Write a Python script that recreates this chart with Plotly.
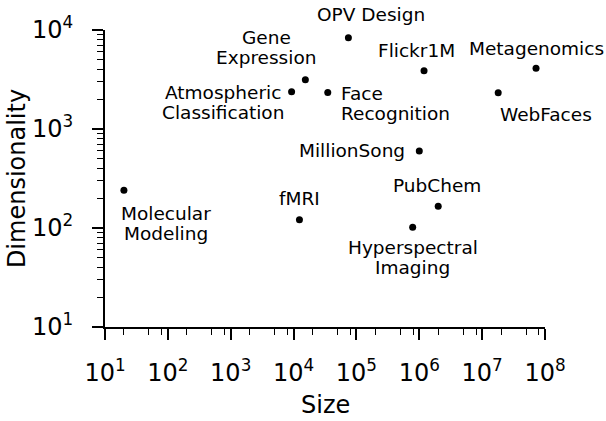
import numpy as np
import plotly.graph_objects as go

# Datasets: size (number of samples) vs. dimensionality
names = [
    "Molecular\nModeling", "fMRI", "Hyperspectral\nImaging", "PubChem",
    "MillionSong", "OPV Design", "Gene\nExpression",
    "Atmospheric\nClassification", "Face\nRecognition", "Flickr1M",
    "Metagenomics", "WebFaces",
]
sizes = [20, 12400, 785000, 2.0e6, 1.0e6, 74500, 15400, 9300, 35000, 1.19e6, 7.2e7, 1.8e7]
dims = [241, 121, 102, 166, 600, 8340, 3150, 2380, 2340, 3880, 4120, 2330]

x_ticks = [10 ** k for k in range(1, 9)]
x_ticktext = [f"10<sup>{k}</sup>" for k in range(1, 9)]
y_ticks = [10 ** k for k in range(1, 5)]
y_ticktext = [f"10<sup>{k}</sup>" for k in range(1, 5)]

# label placement: (xanchor, dx, dy) in screen pixels from the point to the
# centre of the text block (dy positive = downwards)
label_pos = {
    "Molecular\nModeling": ("center", 42, 33),
    "fMRI": ("center", 0, -21),
    "Hyperspectral\nImaging": ("center", 0, 30),
    "PubChem": ("center", -1, -21),
    "MillionSong": ("right", -12, 0),
    "OPV Design": ("center", 23, -23),
    "Gene\nExpression": ("center", -39, -32),
    "Atmospheric\nClassification": ("center", -69, 11),
    "Face\nRecognition": ("left", 11, 11),
    "Flickr1M": ("center", -8, -20),
    "Metagenomics": ("center", 0, -20),
    "WebFaces": ("left", 0, 22),
}
LINE_GAP = 20
FONT = "DejaVu Sans"

fig = go.Figure(
    go.Scatter(
        x=sizes, y=dims, mode="markers",
        marker=dict(color="black", size=7),
        hoverinfo="skip",
    )
)

for name, sx, dy in zip(names, sizes, dims):
    anchor, xs, ys = label_pos[name]
    lines = name.split("\n")
    n = len(lines)
    for i, line in enumerate(lines):
        off = ys + (i - (n - 1) / 2) * LINE_GAP
        fig.add_annotation(
            x=np.log10(sx), y=np.log10(dy), xref="x", yref="y",
            text=line, showarrow=False,
            xanchor=anchor, yanchor="middle", xshift=xs, yshift=-off,
            font=dict(family=FONT, size=18.5, color="black"),
        )

# x-axis title, placed below the tick labels
fig.add_annotation(
    x=0.5, y=0, xref="paper", yref="paper", text="Size", showarrow=False,
    xanchor="center", yanchor="bottom", yshift=-93, borderpad=0,
    font=dict(family=FONT, size=24, color="black"),
)

minor_x = [m * 10 ** k for k in range(1, 8) for m in (2, 5, 8)]
minor_y = [m * 10 ** k for k in range(1, 4) for m in range(2, 10)]

axis_common = dict(
    type="log", showgrid=False, zeroline=False,
    showline=True, linecolor="black", linewidth=2,
    ticks="outside", ticklen=11, tickwidth=1.6, tickcolor="black",
    tickfont=dict(family=FONT, size=24, color="black"),
    title_font=dict(family=FONT, size=24, color="black"),
    mirror=False, automargin=False,
)

fig.update_layout(
    width=606, height=421,
    margin=dict(l=105, r=61, t=30, b=94),
    paper_bgcolor="white", plot_bgcolor="white",
    showlegend=False,
    xaxis=dict(
        **axis_common, range=[1, 8],
        tickmode="array", tickvals=x_ticks, ticktext=x_ticktext,
        ticklabelstandoff=12,
        minor=dict(tickmode="array", tickvals=minor_x, ticks="outside",
                   ticklen=6, tickwidth=1.4, tickcolor="black", showgrid=False),
    ),
    yaxis=dict(
        **axis_common, range=[1, 4],
        tickmode="array", tickvals=y_ticks, ticktext=y_ticktext,
        ticklabelstandoff=14,
        minor=dict(tickmode="array", tickvals=minor_y, ticks="outside",
                   ticklen=6, tickwidth=1.4, tickcolor="black", showgrid=False),
        title=dict(text="Dimensionality", standoff=0),
    ),
)

fig.write_html("out.html")
